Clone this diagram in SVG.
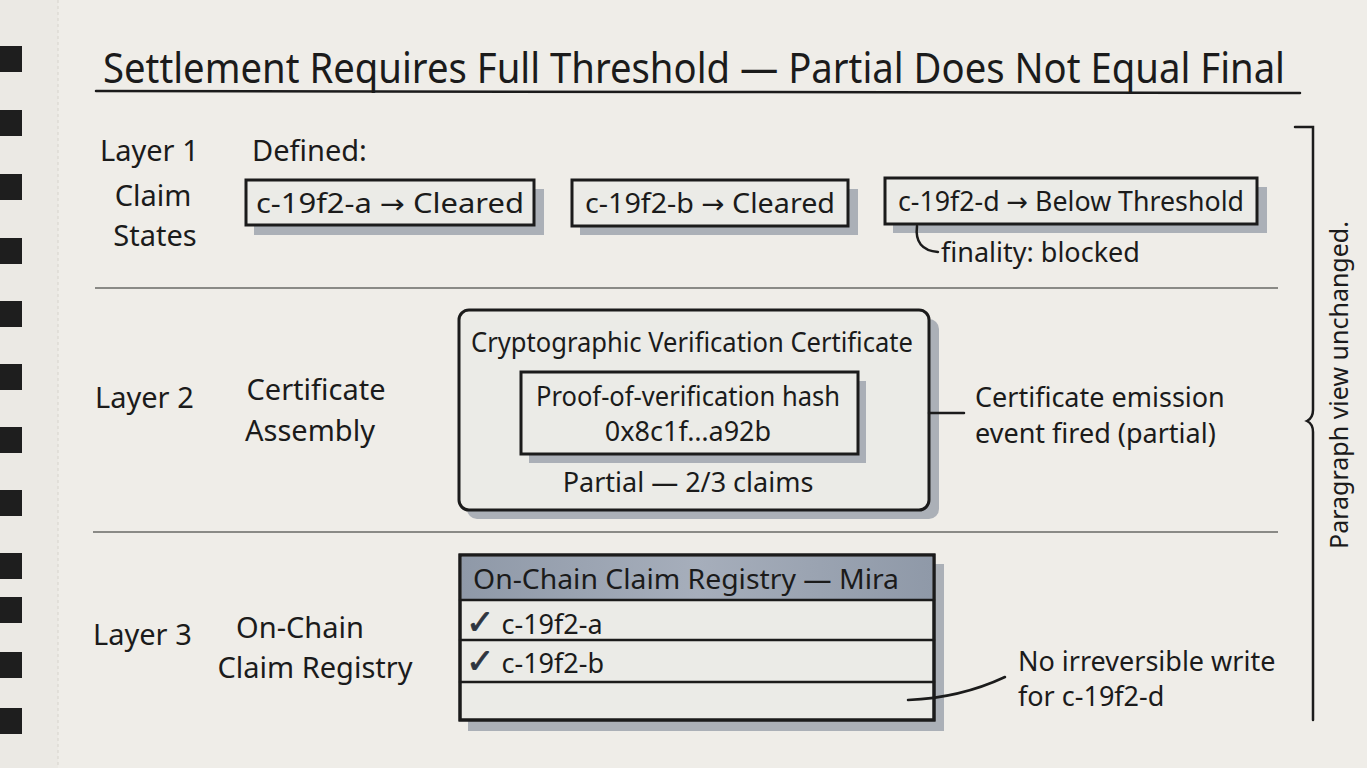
<svg xmlns="http://www.w3.org/2000/svg" width="1367" height="768" viewBox="0 0 1367 768">
<defs>
<style>
.t{font-family:"Noto Sans","Open Sans",sans-serif;fill:#1b1b1b}
.h{font-size:41px}
.l{font-size:29px}
.m{font-size:27px}
.s{font-size:25px}
.ar{font-family:"DejaVu Sans",sans-serif;font-size:26px}
.ck{font-family:"DejaVu Sans",sans-serif;font-size:34px;font-weight:bold;fill:#2e3540;stroke:#2e3540;stroke-width:0.8}
.box{stroke:#1b1b1b;stroke-width:3;fill:#ebebe7}
.shadow{fill:#8e96a3;opacity:0.7}
.line{stroke:#1b1b1b;stroke-width:2.5;fill:none;stroke-linecap:round}
.div{stroke:#8a8a86;stroke-width:2;fill:none}
.ring{fill:#1e1e1e}
</style>
<linearGradient id="hdr" x1="0" y1="0" x2="1" y2="0">
<stop offset="0" stop-color="#8f99a8"/><stop offset="0.5" stop-color="#a6aebb"/><stop offset="1" stop-color="#8f99a8"/>
</linearGradient>
</defs>
<rect width="1367" height="768" fill="#efede8"/>
<rect x="0" y="0" width="58" height="768" fill="#ebe9e4"/>
<line x1="58" y1="0" x2="58" y2="768" stroke="#d6d3cc" stroke-width="1" stroke-dasharray="3 3"/>
<g id="binding">
<rect class="ring" x="0" y="46" width="22" height="26"/>
<rect class="ring" x="0" y="110" width="22" height="26"/>
<rect class="ring" x="0" y="174" width="22" height="26"/>
<rect class="ring" x="0" y="238" width="22" height="26"/>
<rect class="ring" x="0" y="301" width="22" height="26"/>
<rect class="ring" x="0" y="364" width="22" height="26"/>
<rect class="ring" x="0" y="427" width="22" height="26"/>
<rect class="ring" x="0" y="490" width="22" height="26"/>
<rect class="ring" x="0" y="553" width="22" height="26"/>
<rect class="ring" x="0" y="597" width="22" height="26"/>
<rect class="ring" x="0" y="652" width="22" height="26"/>
<rect class="ring" x="0" y="708" width="22" height="26"/>
</g>
<g id="title">
<text class="t h" x="103" y="83" textLength="1182" lengthAdjust="spacingAndGlyphs">Settlement Requires Full Threshold — Partial Does Not Equal Final</text>
<path class="line" d="M96 91 L700 92 L1300 93" stroke-width="2.5"/>
</g>
<g id="dividers">
<line class="div" x1="95" y1="288" x2="1278" y2="288"/>
<line class="div" x1="93" y1="532" x2="1278" y2="532"/>
</g>
<g id="layer1-label">
<text class="t l" x="100" y="161">Layer 1</text>
<text class="t l" x="153" y="206" text-anchor="middle">Claim</text>
<text class="t l" x="155" y="246" text-anchor="middle">States</text>
<text class="t l" x="252" y="161">Defined:</text>
</g>
<g id="claim-a">
<rect class="shadow" x="254" y="189" width="290" height="46"/>
<rect class="box" x="246" y="180" width="288" height="45"/>
<text class="t m" x="390" y="213" text-anchor="middle" textLength="268" lengthAdjust="spacingAndGlyphs">c-19f2-a <tspan class="ar">→</tspan> Cleared</text>
</g>
<g id="claim-b">
<rect class="shadow" x="580" y="189" width="278" height="46"/>
<rect class="box" x="572" y="180" width="276" height="46"/>
<text class="t m" x="710" y="213" text-anchor="middle" textLength="250" lengthAdjust="spacingAndGlyphs">c-19f2-b <tspan class="ar">→</tspan> Cleared</text>
</g>
<g id="claim-d">
<rect class="shadow" x="893" y="187" width="374" height="46"/>
<rect class="box" x="885" y="178" width="372" height="46" fill="#dedcd6"/>
<text class="t m" x="1071" y="211" text-anchor="middle" textLength="346" lengthAdjust="spacingAndGlyphs">c-19f2-d <tspan class="ar">→</tspan> Below Threshold</text>
<path class="line" d="M917 226 Q914 250 938 252"/>
<text class="t m" x="941" y="262">finality: blocked</text>
</g>
<g id="layer2-label">
<text class="t l" x="95" y="408">Layer 2</text>
<text class="t l" x="316" y="400" text-anchor="middle">Certificate</text>
<text class="t l" x="310" y="441" text-anchor="middle">Assembly</text>
</g>
<g id="certificate">
<rect class="shadow" x="467" y="319" width="472" height="200" rx="10"/>
<rect class="box" x="459" y="310" width="470" height="200" rx="10" fill="#efede8"/>
<text class="t m" x="692" y="352" text-anchor="middle" textLength="442" lengthAdjust="spacingAndGlyphs">Cryptographic Verification Certificate</text>
<g id="hash">
<rect class="shadow" x="529" y="381" width="337" height="82"/>
<rect class="box" x="521" y="372" width="337" height="82" fill="#d9d7d1"/>
<text class="t m" x="688" y="406" text-anchor="middle" textLength="304" lengthAdjust="spacingAndGlyphs">Proof-of-verification hash</text>
<text class="t m" x="688" y="441" text-anchor="middle">0x8c1f…a92b</text>
</g>
<text class="t m" x="688" y="492" text-anchor="middle">Partial — 2/3 claims</text>
</g>
<g id="emission-note">
<text class="t m" x="975" y="407">Certificate emission</text>
<text class="t m" x="975" y="443">event fired (partial)</text>
</g>
<g id="layer3-label">
<text class="t l" x="93" y="645">Layer 3</text>
<text class="t l" x="300" y="638" text-anchor="middle">On-Chain</text>
<text class="t l" x="315" y="678" text-anchor="middle">Claim Registry</text>
</g>
<g id="registry">
<rect class="shadow" x="468" y="564" width="476" height="167"/>
<rect class="box" x="460" y="555" width="474" height="165" fill="#efede8"/>
<rect x="461.5" y="556.5" width="471" height="43" fill="url(#hdr)"/>
<line class="line" x1="460" y1="600" x2="934" y2="600" stroke-width="3"/>
<line class="line" x1="460" y1="640" x2="934" y2="640" stroke-width="2"/>
<line class="line" x1="460" y1="682" x2="934" y2="682" stroke-width="2"/>
<rect x="460" y="555" width="474" height="165" fill="none" stroke="#1b1b1b" stroke-width="3"/>
<text class="t m" x="473" y="589" textLength="426" lengthAdjust="spacingAndGlyphs">On-Chain Claim Registry — Mira</text>
<text class="t m" x="466" y="634"><tspan class="ck">✓</tspan> c-19f2-a</text>
<text class="t m" x="466" y="673"><tspan class="ck">✓</tspan> c-19f2-b</text>
</g>
<g id="connectors">
<line class="line" x1="929" y1="413" x2="964" y2="413"/>
<path class="line" d="M908 700 Q960 698 1005 677"/>
</g>
<g id="write-note">
<text class="t m" x="1018" y="671">No irreversible write</text>
<text class="t m" x="1018" y="706">for c-19f2-d</text>
</g>
<g id="bracket">
<path class="line" d="M1295 127 L1313 127 L1313 410 Q1313 418 1307 421 Q1313 424 1313 432 L1313 720" stroke-width="2"/>
<text class="t s" x="1348" y="385" text-anchor="middle" transform="rotate(-90 1348 385)">Paragraph view unchanged.</text>
</g>
</svg>
